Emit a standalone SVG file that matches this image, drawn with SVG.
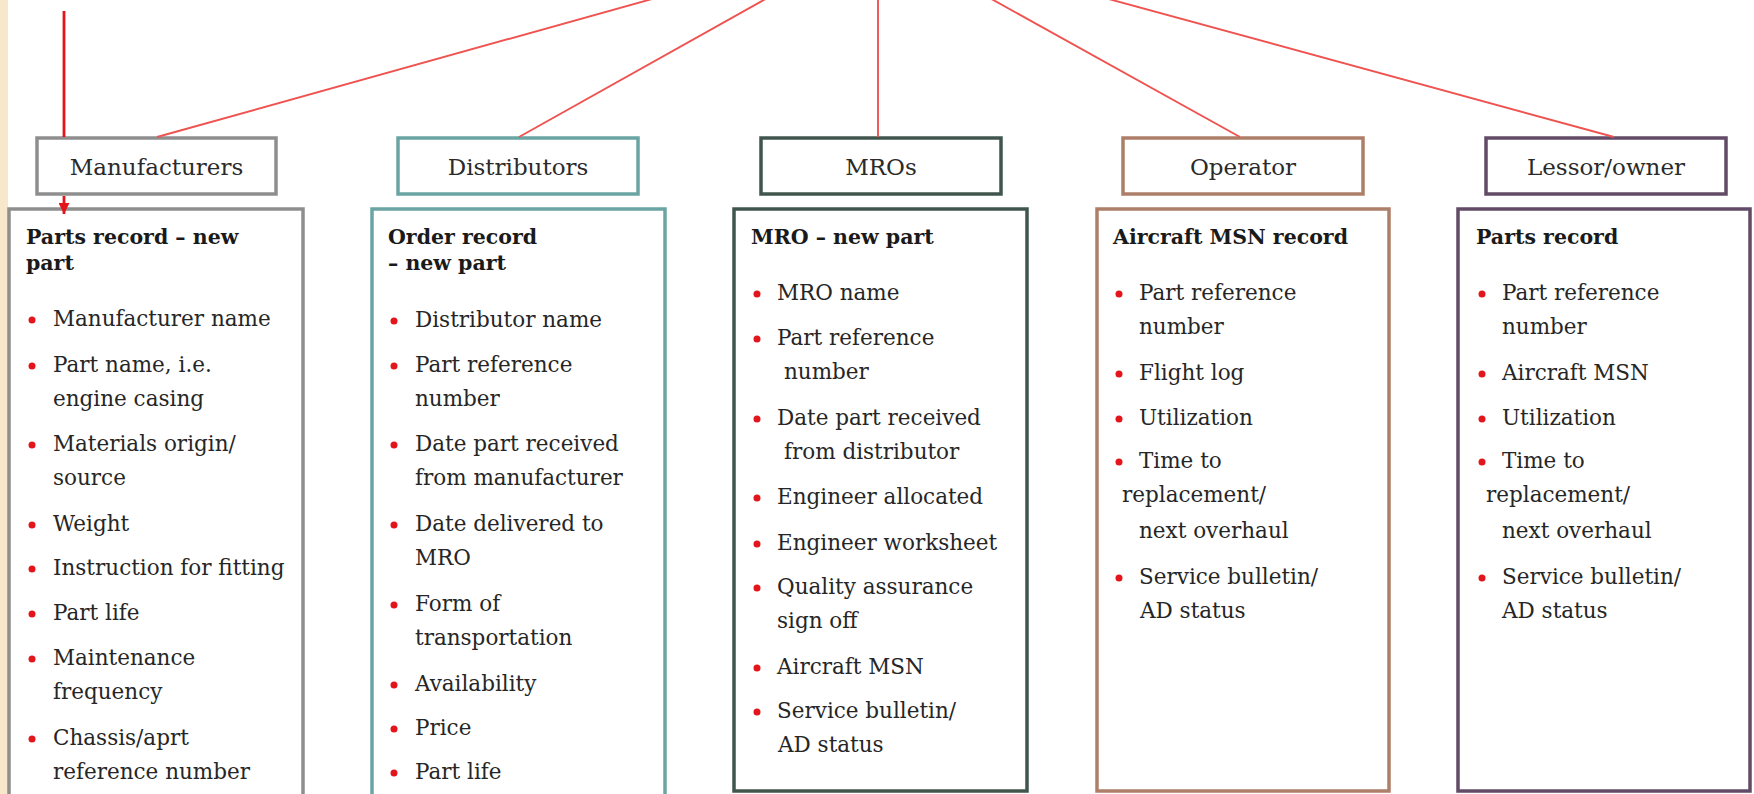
<svg xmlns="http://www.w3.org/2000/svg" width="1754" height="794" viewBox="0 0 1754 794">
<style>
.bg{fill:#ffffff}
.strip{fill:#f7e8cb}
.hdr{fill:#ffffff;stroke-width:3.5}
.rec{fill:#ffffff;stroke-width:3.5}
.lbl{font-family:"DejaVu Serif","Liberation Serif",serif;font-size:23px;fill:#2a2a2a;text-anchor:middle}
.ttl{font-family:"DejaVu Serif","Liberation Serif",serif;font-size:20.5px;font-weight:bold;fill:#1a1a1a}
.t{font-family:"DejaVu Serif","Liberation Serif",serif;font-size:21.5px;fill:#262626}
.dot{fill:#e3151b}
.fan{stroke:#ef5350;stroke-width:1.9;fill:none}
.main{stroke:#e3151b;stroke-width:2.8;fill:none}
.c1{stroke:#8e8e8e}
.c2{stroke:#6aa5a3}
.c3{stroke:#40564d}
.c4{stroke:#ad7f69}
.c5{stroke:#614b66}
</style>
<defs>
<marker id="arrow" viewBox="0 0 10 10" refX="10" refY="5" markerWidth="11" markerHeight="11" markerUnits="userSpaceOnUse" orient="auto">
<path d="M0,0 L10,5 L0,10 z" fill="#e3151b"/>
</marker>
</defs>
<rect class="bg" x="0" y="0" width="1754" height="794"/>
<rect class="strip" x="0" y="0" width="8" height="794"/>

<g id="manufacturers">
<rect class="hdr c1" x="37" y="138" width="239" height="56"/>
<text class="lbl" x="156.5" y="175">Manufacturers</text>
</g>
<g id="manufacturers-record">
<rect class="rec c1" x="9" y="209" width="294" height="600"/>
<text class="ttl" x="26" y="244">Parts record – new</text>
<text class="ttl" x="26" y="270">part</text>
<circle class="dot" cx="32" cy="320" r="3.5"/><text class="t" x="53" y="326">Manufacturer name</text>
<circle class="dot" cx="32" cy="366" r="3.5"/><text class="t" x="53" y="372">Part name, i.e.</text>
<text class="t" x="53" y="406">engine casing</text>
<circle class="dot" cx="32" cy="445" r="3.5"/><text class="t" x="53" y="451">Materials origin/</text>
<text class="t" x="53" y="485">source</text>
<circle class="dot" cx="32" cy="525" r="3.5"/><text class="t" x="53" y="531">Weight</text>
<circle class="dot" cx="32" cy="569" r="3.5"/><text class="t" x="53" y="575">Instruction for fitting</text>
<circle class="dot" cx="32" cy="614" r="3.5"/><text class="t" x="53" y="620">Part life</text>
<circle class="dot" cx="32" cy="659" r="3.5"/><text class="t" x="53" y="665">Maintenance</text>
<text class="t" x="53" y="699">frequency</text>
<circle class="dot" cx="32" cy="739" r="3.5"/><text class="t" x="53" y="745">Chassis/aprt</text>
<text class="t" x="53" y="779">reference number</text>
</g>

<g id="distributors">
<rect class="hdr c2" x="398" y="138" width="240" height="56"/>
<text class="lbl" x="518" y="175">Distributors</text>
</g>
<g id="distributors-record">
<rect class="rec c2" x="372" y="209" width="293" height="600"/>
<text class="ttl" x="388" y="244">Order record</text>
<text class="ttl" x="388" y="270">– new part</text>
<circle class="dot" cx="394" cy="321" r="3.5"/><text class="t" x="415" y="327">Distributor name</text>
<circle class="dot" cx="394" cy="366" r="3.5"/><text class="t" x="415" y="372">Part reference</text>
<text class="t" x="415" y="406">number</text>
<circle class="dot" cx="394" cy="445" r="3.5"/><text class="t" x="415" y="451">Date part received</text>
<text class="t" x="415" y="485">from manufacturer</text>
<circle class="dot" cx="394" cy="525" r="3.5"/><text class="t" x="415" y="531">Date delivered to</text>
<text class="t" x="415" y="565">MRO</text>
<circle class="dot" cx="394" cy="605" r="3.5"/><text class="t" x="415" y="611">Form of</text>
<text class="t" x="415" y="645">transportation</text>
<circle class="dot" cx="394" cy="685" r="3.5"/><text class="t" x="415" y="691">Availability</text>
<circle class="dot" cx="394" cy="729" r="3.5"/><text class="t" x="415" y="735">Price</text>
<circle class="dot" cx="394" cy="773" r="3.5"/><text class="t" x="415" y="779">Part life</text>
</g>

<g id="mros">
<rect class="hdr c3" x="761" y="138" width="240" height="56"/>
<text class="lbl" x="881" y="175">MROs</text>
</g>
<g id="mros-record">
<rect class="rec c3" x="734" y="209" width="293" height="582"/>
<text class="ttl" x="751" y="244">MRO – new part</text>
<circle class="dot" cx="757" cy="294" r="3.5"/><text class="t" x="777" y="300">MRO name</text>
<circle class="dot" cx="757" cy="339" r="3.5"/><text class="t" x="777" y="345">Part reference</text>
<text class="t" x="784" y="379">number</text>
<circle class="dot" cx="757" cy="419" r="3.5"/><text class="t" x="777" y="425">Date part received</text>
<text class="t" x="784" y="459">from distributor</text>
<circle class="dot" cx="757" cy="498" r="3.5"/><text class="t" x="777" y="504">Engineer allocated</text>
<circle class="dot" cx="757" cy="544" r="3.5"/><text class="t" x="777" y="550">Engineer worksheet</text>
<circle class="dot" cx="757" cy="588" r="3.5"/><text class="t" x="777" y="594">Quality assurance</text>
<text class="t" x="777" y="628">sign off</text>
<circle class="dot" cx="757" cy="668" r="3.5"/><text class="t" x="777" y="674">Aircraft MSN</text>
<circle class="dot" cx="757" cy="712" r="3.5"/><text class="t" x="777" y="718">Service bulletin/</text>
<text class="t" x="778" y="752">AD status</text>
</g>

<g id="operator">
<rect class="hdr c4" x="1123" y="138" width="240" height="56"/>
<text class="lbl" x="1243" y="175">Operator</text>
</g>
<g id="operator-record">
<rect class="rec c4" x="1097" y="209" width="292" height="582"/>
<text class="ttl" x="1113" y="244">Aircraft MSN record</text>
<circle class="dot" cx="1119" cy="294" r="3.5"/><text class="t" x="1139" y="300">Part reference</text>
<text class="t" x="1139" y="334">number</text>
<circle class="dot" cx="1119" cy="374" r="3.5"/><text class="t" x="1139" y="380">Flight log</text>
<circle class="dot" cx="1119" cy="419" r="3.5"/><text class="t" x="1139" y="425">Utilization</text>
<circle class="dot" cx="1119" cy="462" r="3.5"/><text class="t" x="1139" y="468">Time to</text>
<text class="t" x="1122" y="502">replacement/</text>
<text class="t" x="1139" y="538">next overhaul</text>
<circle class="dot" cx="1119" cy="578" r="3.5"/><text class="t" x="1139" y="584">Service bulletin/</text>
<text class="t" x="1140" y="618">AD status</text>
</g>

<g id="lessor">
<rect class="hdr c5" x="1486" y="138" width="240" height="56"/>
<text class="lbl" x="1606" y="175">Lessor/owner</text>
</g>
<g id="lessor-record">
<rect class="rec c5" x="1458" y="209" width="292" height="582"/>
<text class="ttl" x="1476" y="244">Parts record</text>
<circle class="dot" cx="1482" cy="294" r="3.5"/><text class="t" x="1502" y="300">Part reference</text>
<text class="t" x="1502" y="334">number</text>
<circle class="dot" cx="1482" cy="374" r="3.5"/><text class="t" x="1502" y="380">Aircraft MSN</text>
<circle class="dot" cx="1482" cy="419" r="3.5"/><text class="t" x="1502" y="425">Utilization</text>
<circle class="dot" cx="1482" cy="462" r="3.5"/><text class="t" x="1502" y="468">Time to</text>
<text class="t" x="1486" y="502">replacement/</text>
<text class="t" x="1502" y="538">next overhaul</text>
<circle class="dot" cx="1482" cy="578" r="3.5"/><text class="t" x="1502" y="584">Service bulletin/</text>
<text class="t" x="1502" y="618">AD status</text>
</g>

<g id="connectors">
<line class="fan" x1="878" y1="-64" x2="157" y2="137"/>
<line class="fan" x1="878" y1="-64" x2="519" y2="137"/>
<line class="fan" x1="878" y1="-64" x2="878" y2="137"/>
<line class="fan" x1="878" y1="-64" x2="1240" y2="137"/>
<line class="fan" x1="878" y1="-64" x2="1614" y2="137"/>
<path class="main" d="M64,11 V137 M64,196 V214" marker-end="url(#arrow)"/>
</g>
</svg>
